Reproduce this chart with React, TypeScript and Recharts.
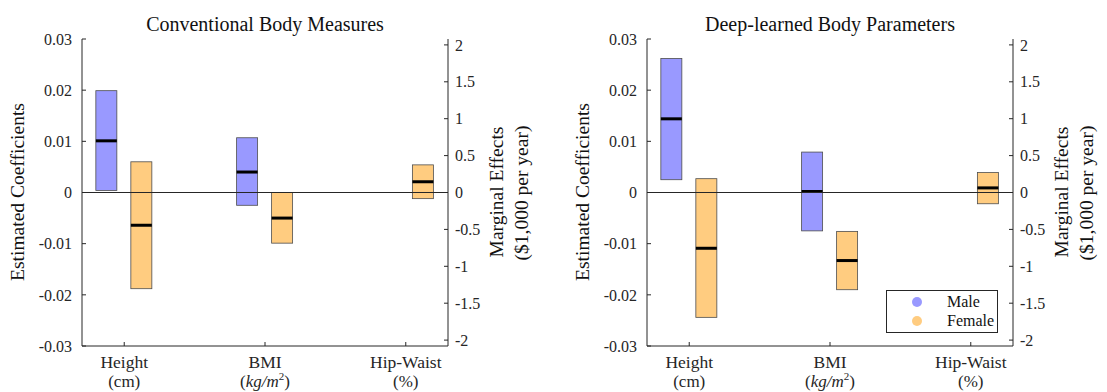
import React from "react";
import { ComposedChart, Bar, XAxis, YAxis, ReferenceLine } from "recharts";

const categories = ["Height", "BMI", "Hip-Waist"];
const catX = [1, 2, 3];

// Conventional Body Measures (interval low / high and median line)
const convMaleLow = [0.0004, -0.0025, null];
const convMaleHigh = [0.0199, 0.0107, null];
const convMaleMed = [0.0101, 0.004, null];
const convFemaleLow = [-0.0188, -0.0099, -0.0012];
const convFemaleHigh = [0.006, 0.0, 0.0054];
const convFemaleMed = [-0.0064, -0.005, 0.0021];

// Deep-learned Body Parameters
const deepMaleLow = [0.0025, -0.0075, null];
const deepMaleHigh = [0.0262, 0.0079, null];
const deepMaleMed = [0.0144, 0.0002, null];
const deepFemaleLow = [-0.0244, -0.019, -0.0022];
const deepFemaleHigh = [0.0027, -0.0076, 0.0039];
const deepFemaleMed = [-0.0109, -0.0133, 0.0009];

const leftTicks = [-0.03, -0.02, -0.01, 0, 0.01, 0.02, 0.03];
const rightTicks = [-2, -1.5, -1, -0.5, 0, 0.5, 1, 1.5, 2];

const legendLabels = ["Male", "Female"];
const MALE = "#9999ff";
const FEMALE = "#ffcc80";
const AXIS = "#262626";
const FONT = "'Liberation Serif', 'DejaVu Serif', serif";

type N = number | null;

function buildRows(mLo: N[], mHi: N[], mMed: N[], fLo: N[], fHi: N[], fMed: N[]) {
  return catX.map((x, i) => ({
    x,
    male: mLo[i] == null ? null : [mLo[i], mHi[i]],
    maleMed: mMed[i],
    female: fLo[i] == null ? null : [fLo[i], fHi[i]],
    femaleMed: fMed[i],
  }));
}

const convRows = buildRows(convMaleLow, convMaleHigh, convMaleMed, convFemaleLow, convFemaleHigh, convFemaleMed);
const deepRows = buildRows(deepMaleLow, deepMaleHigh, deepMaleMed, deepFemaleLow, deepFemaleHigh, deepFemaleMed);

// bar with its median drawn as a thick black line
const makeShape = (fill: string, rangeKey: string, medKey: string) => (props: any) => {
  const { x, y, width, height, payload } = props;
  const range = payload?.[rangeKey];
  if (!range || x == null || y == null) return <g />;
  const top = Math.min(y, y + height);
  const h = Math.abs(height);
  const [lo, hi] = range;
  const medY = top + ((hi - payload[medKey]) / (hi - lo)) * h;
  return (
    <g>
      <rect x={x} y={top} width={width} height={h} fill={fill} stroke="#4d4d4d" strokeWidth={0.8} />
      <line x1={x} x2={x + width} y1={medY} y2={medY} stroke="#000" strokeWidth={3} />
    </g>
  );
};

const CatTick = (props: any) => {
  const { x, y, payload } = props;
  const i = catX.indexOf(payload.value);
  return (
    <g>
      <text x={x} y={y + 22} textAnchor="middle" fontFamily={FONT} fontSize={17.5} fill={AXIS}>
        {categories[i]}
      </text>
      <text x={x} y={y + 41} textAnchor="middle" fontFamily={FONT} fontSize={17} fill={AXIS}>
        {i === 1 ? (
          <>
            <tspan>(</tspan>
            <tspan fontStyle="italic">kg/m</tspan>
            <tspan dy={-7} fontSize={11}>2</tspan>
            <tspan dy={7}>)</tspan>
          </>
        ) : i === 0 ? (
          "(cm)"
        ) : (
          "(%)"
        )}
      </text>
    </g>
  );
};

function Panel({ rows, title, left, legend }: { rows: any[]; title: string; left: number; legend?: boolean }) {
  const tickStyle = { fontFamily: FONT, fontSize: 16, fill: AXIS };
  return (
    <div style={{ position: "absolute", left, top: 0, width: 540, height: 392, fontFamily: FONT }}>
      <ComposedChart width={540} height={392} data={rows} margin={{ top: 39, right: 0, bottom: 0, left: 22 }} barGap={14}>
        <XAxis
          dataKey="x"
          type="number"
          domain={[0.7, 3.3]}
          ticks={catX}
          allowDataOverflow
          height={46}
          interval={0}
          stroke={AXIS}
          tickSize={-4}
          tickMargin={4}
          tick={<CatTick />}
        />
        <YAxis
          yAxisId="left"
          domain={[-0.03, 0.03]}
          ticks={leftTicks}
          allowDataOverflow
          width={60}
          stroke={AXIS}
          tickSize={-4}
          tickMargin={14}
          tick={tickStyle}
          tickFormatter={(v: number) => String(v)}
        />
        <YAxis
          yAxisId="right"
          orientation="right"
          domain={[-2.08, 2.08]}
          ticks={rightTicks}
          allowDataOverflow
          width={92}
          stroke={AXIS}
          tickSize={-4}
          tickMargin={11}
          tick={tickStyle}
          tickFormatter={(v: number) => String(v)}
        />
        <Bar yAxisId="left" dataKey="male" barSize={21} isAnimationActive={false} shape={makeShape(MALE, "male", "maleMed")} />
        <Bar yAxisId="left" dataKey="female" barSize={21} isAnimationActive={false} shape={makeShape(FEMALE, "female", "femaleMed")} />
        <ReferenceLine yAxisId="left" y={0} stroke={AXIS} strokeWidth={1} />
      </ComposedChart>

      <div style={{ position: "absolute", left: 265, top: 24, transform: "translate(-50%, -50%)", whiteSpace: "nowrap", fontFamily: FONT, fontSize: 20, color: "#111" }}>
        {title}
      </div>
      <div style={{ position: "absolute", left: 18, top: 192, transform: "translate(-50%, -50%) rotate(-90deg)", whiteSpace: "nowrap", fontFamily: FONT, fontSize: 19.5, color: "#111" }}>
        Estimated Coefficients
      </div>
      <div style={{ position: "absolute", left: 497, top: 192, transform: "translate(-50%, -50%) rotate(-90deg)", whiteSpace: "nowrap", fontFamily: FONT, fontSize: 19.5, color: "#111" }}>
        Marginal Effects
      </div>
      <div style={{ position: "absolute", left: 522, top: 193, transform: "translate(-50%, -50%) rotate(-90deg)", whiteSpace: "nowrap", fontFamily: FONT, fontSize: 19.5, color: "#111" }}>
        ($1,000 per year)
      </div>

      {legend && (
        <div style={{ position: "absolute", left: 321, top: 290, width: 112, height: 43, boxSizing: "border-box", border: `1px solid ${AXIS}`, background: "#fff", fontFamily: FONT, fontSize: 16, color: "#111" }}>
          {legendLabels.map((l, i) => (
            <div key={l} style={{ position: "absolute", left: 0, top: i === 0 ? 1 : 20, height: 20, display: "flex", alignItems: "center" }}>
              <span style={{ position: "absolute", left: 25, width: 10, height: 10, borderRadius: "50%", background: i === 0 ? MALE : FEMALE }} />
              <span style={{ position: "absolute", left: 60 }}>{l}</span>
            </div>
          ))}
        </div>
      )}
    </div>
  );
}

export default function App() {
  return (
    <div style={{ position: "absolute", left: 0, top: 0, width: 1107, height: 392, background: "#fff", fontFamily: FONT }}>
      <Panel rows={convRows} title="Conventional Body Measures" left={0} />
      <Panel rows={deepRows} title="Deep-learned Body Parameters" left={565} legend />
    </div>
  );
}
